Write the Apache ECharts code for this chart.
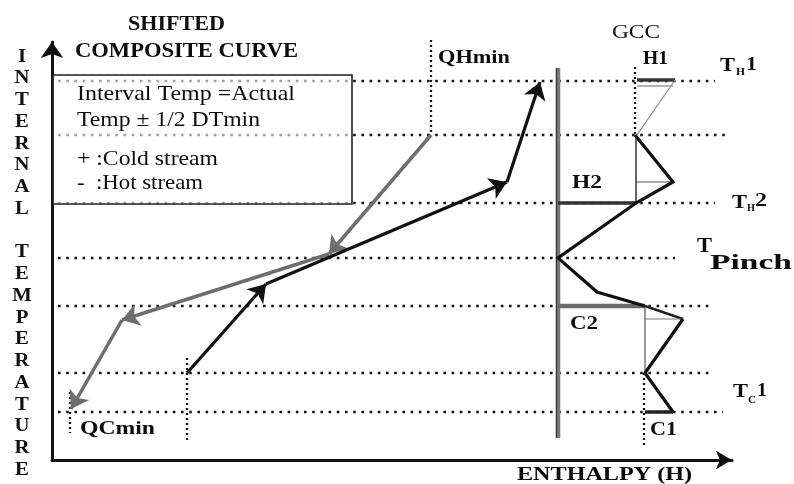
<!DOCTYPE html>
<html>
<head>
<meta charset="utf-8">
<script src="https://cdn.jsdelivr.net/npm/echarts@6/dist/echarts.min.js"></script>
<style>
  html, body { margin: 0; padding: 0; background: #fff; }
  #chart { width: 794px; height: 484px; }
</style>
</head>
<body>
<div id="chart"></div>
<script>
// Shifted composite curves and the grand composite curve (GCC).
// Schematic units: H = enthalpy along the horizontal axis, T = interval temperature.

// Temperature interval boundaries (T_H1, -, T_H2, T_Pinch, -, -, T_C1) and where each dotted guide ends
const intervalT      = [379, 325, 257, 202, 154, 87, 48];
const intervalEndH   = [663, 673, 663, 623, 661, 661, 671];
const intervalStartH = 6;

// Hot composite curve (drawn from hot end to cold end)
const hotH  = [379, 277, 70, 19];
const hotT  = [325, 206, 140, 51];
// Cold composite curve (drawn from cold end to hot end)
const coldH = [135, 214, 455, 488];
const coldT = [87, 176, 278, 378];

// Vertical guides: QHmin, cold curve start, QCmin
const qhminH = 379,      qhminT = [420, 325];
const coldStartH = 135,  coldStartT = [102, 18];
const qcminH = 18,       qcminT = [68, 27];

// GCC temperature axis and its guides
const gccAxisH = 506,    gccAxisT = [392, 22];
const gccTopGuideH = 583, gccTopGuideT = [393, 325];
const gccC1GuideH = 592,  gccC1GuideT = [87, 13];

// GCC profile above and just below the pinch
const gccUpperH = [583, 621, 584, 506, 545, 593];
const gccUpperT = [325, 278, 257, 202, 168, 154];
// GCC profile near the cold end
const gccLowerH = [631, 593, 621];
const gccLowerT = [141, 87, 48];

// Utility heat bars and pocket lines on the GCC
const h1BarH = [585, 623],  h1BarT = 380;
const h1DiagH = [623, 585], h1DiagT = [380, 325];
const h1InnerH = [585, 621], h1InnerT = 374;
const h2BarH = [506, 584],  h2BarT = 257;
const h2PocketH = [584, 621], h2PocketT = 278;
const h2PocketWallH = 584,  h2PocketWallT = [325, 257];
const c2BarH = [506, 593],  c2BarT = 154;
const c2RiseH = [593, 631], c2RiseT = [154, 141];
const c2PocketH = [593, 630], c2PocketT = 141;
const c2PocketWallH = 593,  c2PocketWallT = [154, 87];
const c1BarH = [593, 621],  c1BarT = 48;

const zip = (hs, ts) => hs.map((h, i) => [h, ts[i]]);
const horiz = (hs, t) => hs.map(h => [h, t]);
const vert = (h, ts) => ts.map(t => [h, t]);

function path(pts, color, width, z, type) {
  return {
    type: 'line', data: pts, symbol: 'none', clip: false, silent: true,
    animation: false, z: z,
    lineStyle: { color: color, width: width, type: type || 'solid', cap: 'butt', join: 'miter' }
  };
}

function arrowed(hs, ts, color, width) {
  const pts = zip(hs, ts);
  const segs = [];
  for (let i = 0; i < pts.length - 1; i++) segs.push({ coords: [pts[i], pts[i + 1]] });
  return {
    type: 'lines', coordinateSystem: 'cartesian2d', data: segs, z: 6,
    symbol: ['none', 'arrow'], symbolSize: 17, silent: true, animation: false,
    lineStyle: { color: color, width: width, opacity: 1, curveness: 0 }
  };
}

const series = [];
const DOT = [2.6, 5.6];
const VDOT = [2, 3];

intervalT.forEach((t, i) => {
  series.push(path([[intervalStartH, t], [intervalEndH[i], t]], '#151515', 2.5, 1, DOT));
});
series.push(path(vert(qhminH, qhminT), '#151515', 2.3, 1, VDOT));
series.push(path(vert(coldStartH, coldStartT), '#151515', 2.3, 1, VDOT));
series.push(path(vert(qcminH, qcminT), '#151515', 2.3, 1, VDOT));
series.push(path(vert(gccTopGuideH, gccTopGuideT), '#151515', 2.3, 1, VDOT));
series.push(path(vert(gccC1GuideH, gccC1GuideT), '#151515', 2.3, 1, VDOT));

// GCC axis (double rule)
series.push(path(vert(gccAxisH, gccAxisT), '#7a7a7a', 4.5, 4));
series.push(path(vert(gccAxisH - 1.5, gccAxisT), '#333', 1.2, 4));

// GCC bars and pockets
series.push(path(horiz(h1BarH, h1BarT), '#333', 3.5, 5));
series.push(path(zip(h1DiagH, h1DiagT), '#8a8a8a', 1.2, 5));
series.push(path(horiz(h1InnerH, h1InnerT), '#9a9a9a', 1.5, 5));
series.push(path(horiz(h2BarH, h2BarT), '#333', 3.5, 5));
series.push(path(horiz(h2PocketH, h2PocketT), '#555', 1.2, 5));
series.push(path(vert(h2PocketWallH, h2PocketWallT), '#333', 1.5, 5));
series.push(path(horiz(c2BarH, c2BarT), '#6a6a6a', 4.5, 5));
series.push(path(zip(c2RiseH, c2RiseT), '#222', 2.4, 5));
series.push(path(horiz(c2PocketH, c2PocketT), '#777', 1.2, 5));
series.push(path(vert(c2PocketWallH, c2PocketWallT), '#555', 1.2, 5));
series.push(path(horiz(c1BarH, c1BarT), '#222', 3.5, 5));

// GCC profile
series.push(path(zip(gccUpperH, gccUpperT), '#111', 3.2, 6));
series.push(path(zip(gccLowerH, gccLowerT), '#111', 3.2, 6));

// Composite curves with direction arrows
series.push(arrowed(hotH, hotT, '#6e6e6e', 3.5));
series.push(arrowed(coldH, coldT, '#111', 3.2));

// Text labels, stretched to the widths they take on the sheet
const SERIF = '"Liberation Serif", "Times New Roman", serif';
const mctx = document.createElement('canvas').getContext('2d');
function label(txt, left, cy, width, size, bold) {
  const font = (bold ? 'bold ' : '') + size + 'px ' + SERIF;
  mctx.font = font;
  const w = mctx.measureText(txt).width;
  return {
    type: 'text', x: left, y: cy, z: 20, scaleX: width / w,
    style: { text: txt, font: font, fill: '#0c0c0c', align: 'left', verticalAlign: 'middle' }
  };
}

const labelSpecs = [
  ['SHIFTED',               128, 25, 97, 20, true],
  ['COMPOSITE CURVE',        75, 52, 223, 20, true],
  ['Interval Temp =Actual',  77, 94, 218, 21, false],
  ['Temp \u00b1 1/2 DTmin',  77, 120, 183, 21, false],
  ['+ :Cold stream',         77, 159, 141, 21, false],
  ['-  :Hot stream',         77, 183, 126, 21, false],
  ['QHmin',                 438, 58, 72, 19, true],
  ['GCC',                   612, 33, 48, 19, false],
  ['H1',                    643, 59, 25, 18, true],
  ['H2',                    572, 183, 30, 19, true],
  ['C2',                    570, 324, 28, 19, true],
  ['C1',                    650, 430, 27, 19, true],
  ['QCmin',                  80, 429, 75, 19, true],
  ['ENTHALPY (H)',          517, 475, 175, 19, true],
  ['T',                     720, 66, 15, 18, true],
  ['H',                     736, 72, 9, 10, true],
  ['1',                     746, 65, 11, 18, true],
  ['T',                     732, 203, 15, 18, true],
  ['H',                     747, 208, 8, 10, true],
  ['2',                     755, 201, 12, 18, true],
  ['T',                     697, 247, 15, 20, true],
  ['Pinch',                 710, 264, 82, 21, true],
  ['T',                     733, 392, 15, 18, true],
  ['C',                     748, 400, 8, 10, true],
  ['1',                     757, 391, 10, 18, true]
];

const graphics = [
  {
    type: 'rect', z: 3,
    shape: { x: 53, y: 75, width: 299, height: 129 },
    style: { fill: 'rgba(255,255,255,0.6)', stroke: '#222', lineWidth: 1.6 }
  },
  {
    type: 'text', x: 22, y: 46, z: 20, scaleX: 1.15,
    style: {
      text: 'INTERNAL TEMPERATURE'.split('').join('\n'),
      font: 'bold 18px ' + SERIF, fill: '#111',
      align: 'center', verticalAlign: 'top', lineHeight: 21.75
    }
  }
].concat(labelSpecs.map(s => label.apply(null, s)));

const chart = echarts.init(document.getElementById('chart'), null, { renderer: 'canvas' });
chart.setOption({
  animation: false,
  backgroundColor: '#fff',
  grid: { left: 52, right: 62, top: 42, bottom: 24 },
  xAxis: {
    type: 'value', min: 0, max: 680,
    axisLine: { show: true, symbol: ['none', 'arrow'], symbolSize: [14, 16], lineStyle: { color: '#111', width: 3 } },
    axisTick: { show: false }, axisLabel: { show: false }, splitLine: { show: false }
  },
  yAxis: {
    type: 'value', min: 0, max: 418,
    axisLine: { show: true, symbol: ['none', 'arrow'], symbolSize: [17, 16], lineStyle: { color: '#111', width: 3 } },
    axisTick: { show: false }, axisLabel: { show: false }, splitLine: { show: false }
  },
  series: series,
  graphic: graphics
});
</script>
</body>
</html>
